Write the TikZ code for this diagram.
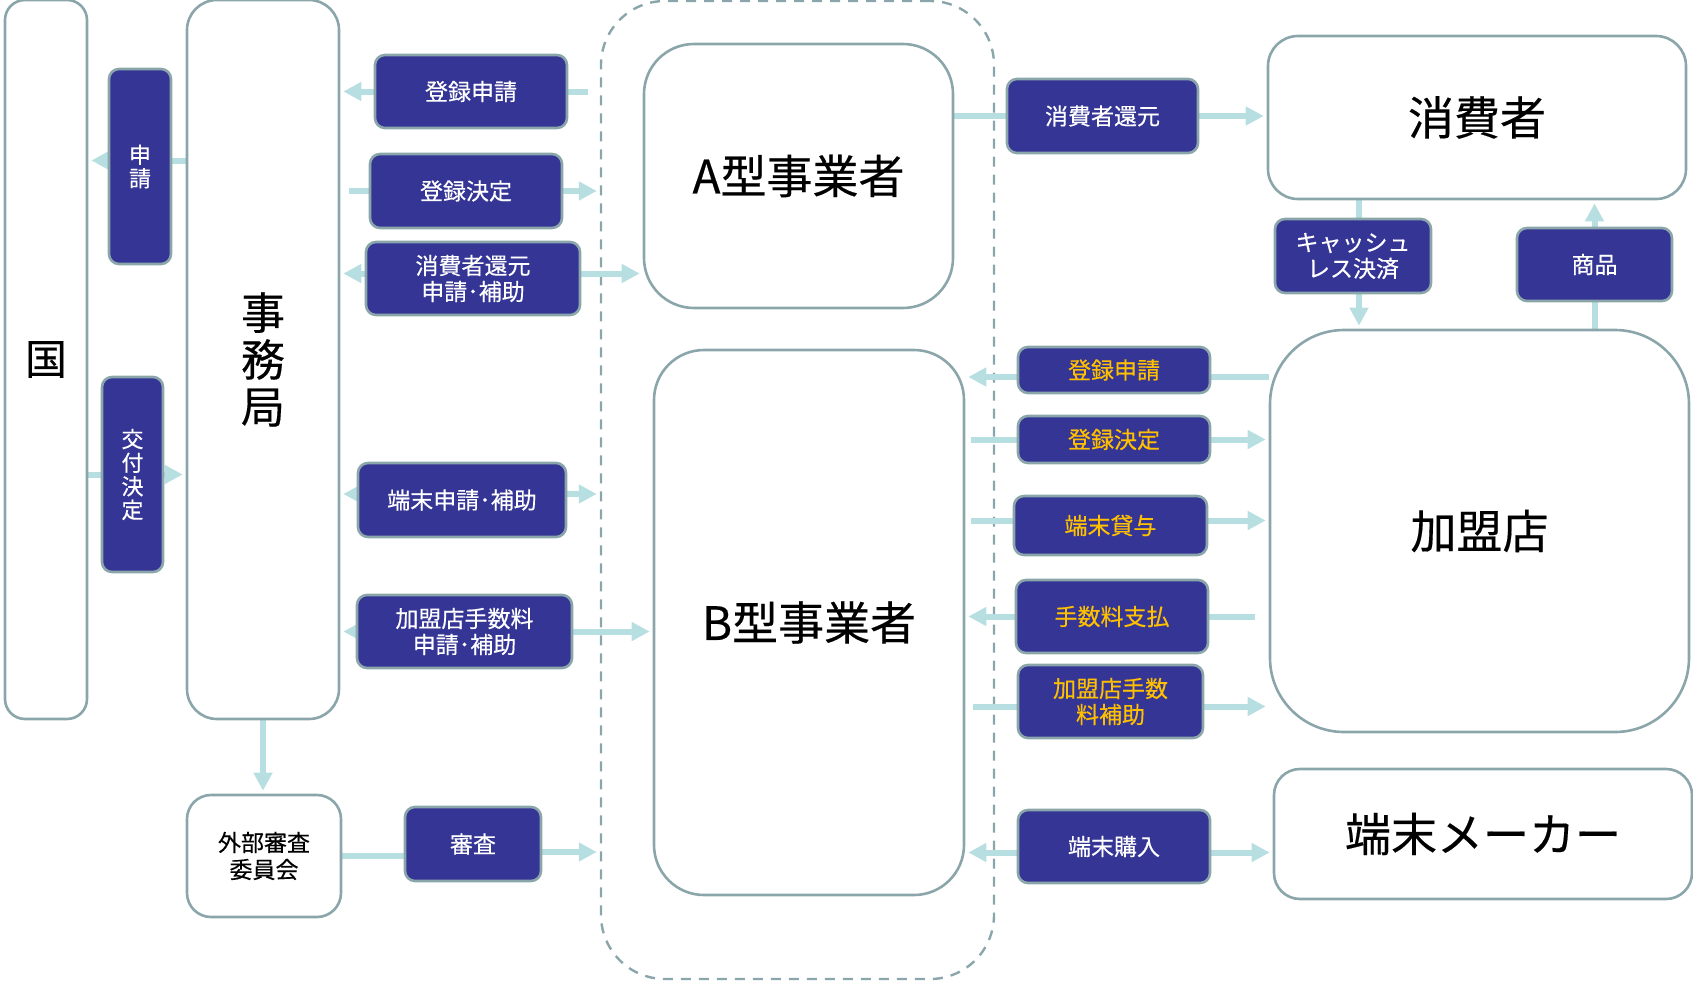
\documentclass[tikz,border=0pt]{standalone}
\usepackage{fontspec}
\setmainfont{Noto Sans CJK JP}[FakeBold=0.35]
\usetikzlibrary{arrows.meta,calc}
\definecolor{navy}{HTML}{353595}
\definecolor{edge}{HTML}{8BA6AA}
\definecolor{arrc}{HTML}{B7DFE2}
\definecolor{gold}{HTML}{FFC000}
\pgfdeclarelayer{grplayer}
\pgfdeclarelayer{bg}
\pgfsetlayers{grplayer,bg,main}
\begin{document}
\begin{tikzpicture}[x=0.5pt,y=-0.5pt,
  wh/.style 2 args={minimum width=#1*0.5pt,minimum height=#2*0.5pt},
  tag/.style={draw=edge,line width=1.3pt,fill=navy,rounded corners=5pt,inner sep=0pt,text=white,align=center,font=\fontsize{11.5}{13}\selectfont},
  ytag/.style={tag,text=gold},
  vtag/.style={tag,font=\fontsize{11}{11.8}\selectfont},
  ent/.style={draw=edge,line width=1.3pt,fill=white,inner sep=0pt,align=center,font=\fontsize{23}{24}\selectfont},
  ln/.style={draw=arrc,line width=3pt},
  arr/.style={ln,-{Triangle[length=9pt,width=9pt]},shorten >=1.5pt},
]
\useasboundingbox (0,0) rectangle (1693,985);

\begin{pgfonlayer}{grplayer}
\node[draw=edge,line width=1.2pt,dash pattern=on 5pt off 4pt,rounded corners=32pt,wh={393}{978},inner sep=0pt] (grp) at (797.5,490) {};
\end{pgfonlayer}

% left side
\node[ent,wh={82}{719},rounded corners=10pt,font=\fontsize{21}{22}\selectfont] (kuni) at (46,359.5) {国};
\node[vtag,wh={62}{195}] (shin) at (140,166.5) {申\\請};
\node[vtag,wh={61}{195}] (koufu) at (132.5,474.5) {交\\付\\決\\定};
\node[ent,wh={152}{719},rounded corners=15pt,font=\fontsize{22}{23.5}\selectfont] (jim) at (263,359.5) {事\\務\\局};
\node[tag,wh={192}{73}] (tr1) at (471,91.5) {登録申請};
\node[tag,wh={192}{74}] (td1) at (466,191) {登録決定};
\node[tag,wh={214}{73}] (sk1) at (473,278.5) {消費者還元\\申請･補助};
\node[tag,wh={208}{74}] (ts) at (462,500) {端末申請･補助};
\node[tag,wh={215}{73}] (kt) at (464.5,631.5) {加盟店手数料\\申請･補助};
\node[ent,wh={154}{122},rounded corners=12pt,font=\fontsize{11.5}{13.5}\selectfont] (gaibu) at (264,856) {外部審査\\委員会};
\node[tag,wh={136}{74}] (shinsa) at (473,844) {審査};

% middle
\node[ent,wh={309}{264},rounded corners=25pt] (A) at (798.5,176) {A型事業者};
\node[ent,wh={310}{545},rounded corners=25pt] (B) at (809,622.5) {B型事業者};

% right side
\node[tag,wh={191}{74}] (sk2) at (1102.5,116) {消費者還元};
\node[ent,wh={418}{163},rounded corners=15pt] (cons) at (1477,117.5) {消費者};
\node[tag,wh={156}{74}] (cash) at (1353,256) {キャッシュ\\レス決済};
\node[tag,wh={155}{73}] (shohin) at (1594.5,264.5) {商品};
\node[ent,wh={419}{402},rounded corners=37pt] (kamei) at (1479.5,531) {加盟店};
\node[ytag,wh={192}{46}] (tr2) at (1114,370) {登録申請};
\node[ytag,wh={192}{47}] (td2) at (1114,439.5) {登録決定};
\node[ytag,wh={193}{59}] (tt) at (1110.5,525.5) {端末貸与};
\node[ytag,wh={192}{73}] (tesu) at (1112,616.5) {手数料支払};
\node[ytag,wh={185}{73}] (kh) at (1110.5,701.5) {加盟店手数\\料補助};
\node[tag,wh={192}{73}] (kounyu) at (1114,846.5) {端末購入};
\node[ent,wh={418}{130},rounded corners=13pt] (maker) at (1483,834) {端末メーカー};

\begin{pgfonlayer}{bg}
\draw[ln] ([yshift=3pt]shin.east -| jim.west) -- ([yshift=3pt]shin.east);
\draw[arr] ([yshift=3pt]shin.west) -- ([yshift=3pt]shin.west -| kuni.east);
\draw[ln] (kuni.east |- koufu) -- (koufu.west);
\draw[arr] (koufu.east) -- (jim.west |- koufu);
\draw[ln] ([xshift=-6pt]grp.west |- tr1) -- (tr1.east);
\draw[arr] (tr1.west) -- (jim.east |- tr1);
\draw[ln,shorten <=4.5pt] (jim.east |- td1) -- (td1.west);
\draw[arr] (td1.east) -- (grp.west |- td1);
\draw[arr] ([yshift=2.5pt]sk1.west) -- ([yshift=2.5pt]sk1.west -| jim.east);
\draw[arr] ([yshift=2.5pt]sk1.east) -- ([yshift=2.5pt]sk1.east -| A.west);
\draw[arr] ([yshift=3pt]ts.west) -- ([yshift=3pt]ts.west -| jim.east);
\draw[arr] ([yshift=3pt]ts.east) -- ([yshift=3pt]ts.east -| grp.west);
\draw[arr] (kt.west) -- (jim.east |- kt);
\draw[arr] (kt.east) -- (B.west |- kt);
\draw[arr] (jim.south) -- (jim.south |- gaibu.north);
\draw[ln] (gaibu.east) -- (gaibu.east -| shinsa.west);
\draw[arr] ([yshift=-4pt]shinsa.east) -- ([yshift=-4pt]shinsa.east -| grp.west);
\draw[ln] (A.east |- sk2) -- (sk2.west);
\draw[arr] (sk2.east) -- (cons.west |- sk2);
\draw[ln] ([xshift=3pt]cash.north |- cons.south) -- ([xshift=3pt]cash.north);
\draw[arr] ([xshift=3pt]cash.south) -- ([xshift=3pt]cash.south |- kamei.north);
\draw[ln] (shohin.south |- kamei.north) -- (shohin.south);
\draw[arr] (shohin.north) -- (shohin.north |- cons.south);
\draw[ln] ([yshift=-3.5pt]tr2.east -| kamei.west) -- ([yshift=-3.5pt]tr2.east);
\draw[arr] ([yshift=-3.5pt]tr2.west) -- ([yshift=-3.5pt]tr2.west -| B.east);
\draw[ln,shorten <=3pt] (B.east |- td2) -- (td2.west);
\draw[arr] (td2.east) -- (kamei.west |- td2);
\draw[ln,shorten <=3pt] ([yshift=2.5pt]tt.west -| B.east) -- ([yshift=2.5pt]tt.west);
\draw[arr] ([yshift=2.5pt]tt.east) -- ([yshift=2.5pt]tt.east -| kamei.west);
\draw[ln,shorten <=7pt] (kamei.west |- tesu) -- (tesu.east);
\draw[arr] (tesu.west) -- (B.east |- tesu);
\draw[ln,shorten <=4pt] ([yshift=-2.5pt]kh.west -| B.east) -- ([yshift=-2.5pt]kh.west);
\draw[arr] ([yshift=-2.5pt]kh.east) -- ([yshift=-2.5pt]kh.east -| kamei.west);
\draw[arr] ([yshift=-3pt]kounyu.west) -- ([yshift=-3pt]kounyu.west -| B.east);
\draw[arr] ([yshift=-3pt]kounyu.east) -- ([yshift=-3pt]kounyu.east -| maker.west);
\end{pgfonlayer}
\end{tikzpicture}
\end{document}
